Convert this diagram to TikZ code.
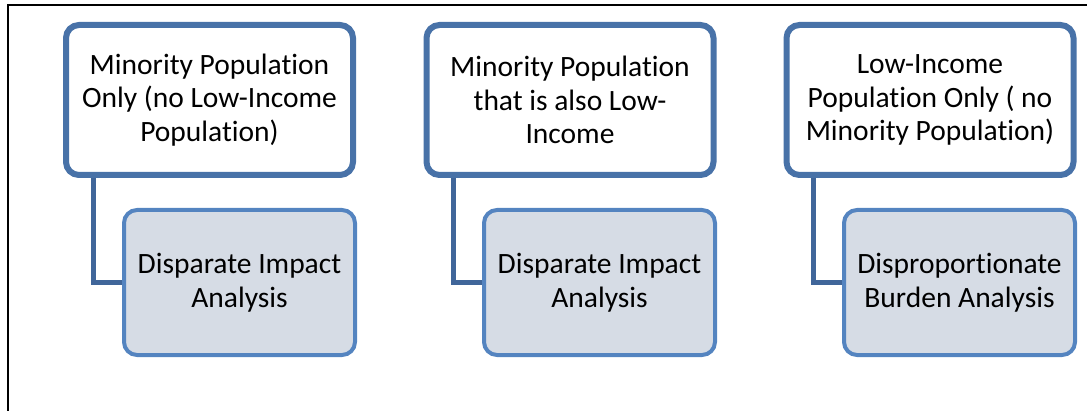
\documentclass[tikz,border=0pt]{standalone}
\usepackage{fontspec}
\setmainfont{Carlito}[Ligatures=NoCommon]
\usetikzlibrary{backgrounds}
\definecolor{topline}{RGB}{72,114,168}
\definecolor{subline}{RGB}{84,132,192}
\definecolor{subfill}{RGB}{214,220,229}
\definecolor{linkline}{RGB}{64,102,154}
\begin{document}
\begin{tikzpicture}[x=1pt,y=-1pt,
  catbox/.style={draw=topline, line width=6pt, fill=white, rounded corners=13pt,
    minimum width=287pt, minimum height=150pt, inner sep=0pt, align=center,
    font=\fontsize{29.5}{33.5}\selectfont},
  anabox/.style={draw=subline, line width=4pt, fill=subfill, rounded corners=13pt,
    minimum width=231pt, minimum height=145pt, inner sep=0pt, align=center,
    font=\fontsize{29.5}{33.5}\selectfont},
  link/.style={draw=linkline, line width=5pt}]
  \useasboundingbox (0,0) rectangle (1089,411);
  % page frame (left and top edges)
  \draw[line width=2pt] (8,411) -- (8,5) -- (1087,5);

  % population categories
  \node[catbox] (t1) at (209.5,100) {Minority Population\\Only (no Low-Income\\Population)};
  \node[catbox] (t2) at (570,100) {Minority Population\\that is also Low-\\Income};
  \node[catbox] (t3) at (930,100) {Low-Income\\Population Only ( no\\Minority Population)};

  % analyses
  \node[anabox] (b1) at (239.5,282.5) {Disparate Impact\\Analysis};
  \node[anabox] (b2) at (599.5,282.5) {Disparate Impact\\Analysis};
  \node[anabox] (b3) at (959.5,282.5) {Disproportionate\\Burden Analysis};

  % elbow connectors behind the boxes
  \begin{scope}[on background layer]
    \path[link] ([xshift=30pt]t1.south west) |- (b1.west);
    \path[link] ([xshift=30pt]t2.south west) |- (b2.west);
    \path[link] ([xshift=30pt]t3.south west) |- (b3.west);
  \end{scope}
\end{tikzpicture}
\end{document}
